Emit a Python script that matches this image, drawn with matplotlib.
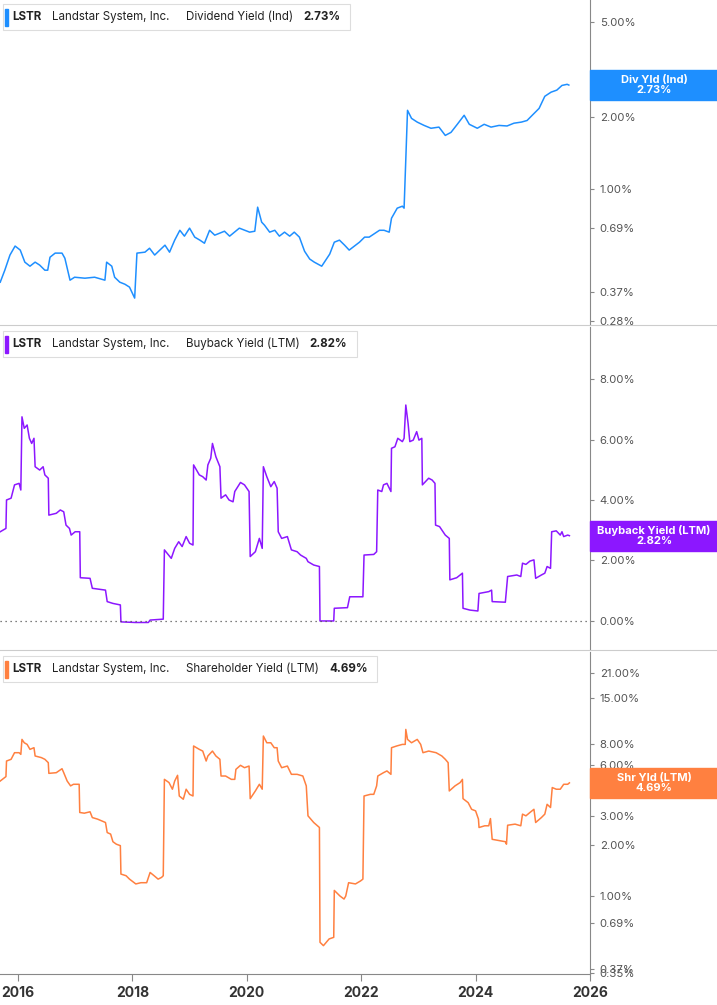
import matplotlib
matplotlib.use("Agg")
import matplotlib.pyplot as plt
from matplotlib.lines import Line2D
from matplotlib.patches import Rectangle

plt.rcParams["font.family"] = "Inter"

# ---------------- data ----------------
div_dates = [2015.69,2015.77,2015.86,2015.95,2016.04,2016.12,2016.21,2016.30,2016.38,2016.47,2016.52,2016.56,2016.65,2016.77,2016.82,
             2016.91,2016.99,2017.17,2017.34,2017.52,2017.55,2017.64,2017.69,2017.78,2017.87,2017.95,2018.04,2018.08,2018.22,2018.30,
             2018.39,2018.48,2018.57,2018.65,2018.74,2018.83,2018.91,2019.00,2019.09,2019.18,2019.26,2019.35,2019.44,2019.53,2019.61,
             2019.70,2019.87,2020.05,2020.14,2020.19,2020.26,2020.31,2020.40,2020.49,2020.57,2020.66,2020.75,2020.83,2020.92,2021.01,
             2021.10,2021.18,2021.31,2021.45,2021.53,2021.62,2021.71,2021.79,2021.97,2022.06,2022.14,2022.32,2022.40,2022.49,2022.53,
             2022.63,2022.72,2022.75,2022.81,2022.88,2022.98,2023.10,2023.22,2023.36,2023.47,2023.57,2023.68,2023.80,2023.89,2024.03,
             2024.15,2024.27,2024.41,2024.55,2024.67,2024.80,2024.90,2024.99,2025.11,2025.21,2025.32,2025.42,2025.51,2025.60,2025.63]
div_vals = [0.408,0.458,0.530,0.578,0.556,0.495,0.476,0.495,0.481,0.458,0.458,0.519,0.540,0.540,0.514,
            0.416,0.428,0.424,0.428,0.416,0.495,0.476,0.428,0.408,0.400,0.389,0.350,0.540,0.545,0.566,
            0.530,0.556,0.583,0.545,0.612,0.673,0.636,0.687,0.630,0.612,0.594,0.673,0.642,0.655,0.667,
            0.636,0.687,0.661,0.667,0.841,0.728,0.707,0.661,0.673,0.636,0.661,0.636,0.661,0.630,0.550,
            0.510,0.495,0.476,0.535,0.600,0.612,0.583,0.556,0.600,0.630,0.630,0.673,0.673,0.661,0.756,
            0.833,0.849,0.833,2.14,1.98,1.91,1.85,1.80,1.82,1.68,1.73,1.87,2.04,1.87,1.80,
            1.87,1.82,1.85,1.84,1.89,1.91,1.94,2.04,2.18,2.45,2.55,2.60,2.72,2.75,2.73]

bb_dates = [2015.69,2015.79,2015.80,2015.88,2015.94,2016.02,2016.05,2016.07,2016.11,2016.16,2016.20,2016.24,2016.28,2016.30,2016.38,
            2016.44,2016.47,2016.53,2016.54,2016.67,2016.74,2016.80,2016.84,2016.90,2016.93,2017.00,2017.08,2017.09,2017.26,2017.30,
            2017.53,2017.56,2017.66,2017.79,2017.80,2018.05,2018.28,2018.31,2018.54,2018.56,2018.68,2018.74,2018.81,2018.87,2018.94,
            2019.00,2019.06,2019.07,2019.17,2019.23,2019.29,2019.32,2019.37,2019.40,2019.46,2019.53,2019.55,2019.63,2019.69,2019.76,
            2019.79,2019.89,2019.96,2020.04,2020.06,2020.15,2020.22,2020.27,2020.29,2020.35,2020.42,2020.48,2020.53,2020.55,2020.61,
            2020.71,2020.78,2020.88,2020.94,2021.04,2021.07,2021.17,2021.27,2021.28,2021.52,2021.53,2021.76,2021.80,2022.03,2022.05,
            2022.22,2022.27,2022.29,2022.36,2022.39,2022.45,2022.52,2022.53,2022.59,2022.64,2022.72,2022.75,2022.78,2022.82,2022.85,
            2022.91,2022.97,2023.01,2023.06,2023.07,2023.18,2023.24,2023.29,2023.30,2023.37,2023.47,2023.54,2023.55,2023.67,2023.77,
            2023.78,2023.90,2024.04,2024.06,2024.23,2024.28,2024.29,2024.52,2024.56,2024.72,2024.79,2024.82,2024.88,2024.95,2025.02,
            2025.05,2025.15,2025.21,2025.25,2025.31,2025.33,2025.41,2025.48,2025.51,2025.54,2025.61,2025.64]
bb_vals = [2.95,3.06,4.00,4.06,4.50,4.55,4.33,6.75,6.37,6.48,6.04,5.87,6.04,5.10,4.99,
           5.10,4.83,4.72,3.50,3.56,3.67,3.61,3.17,3.06,2.84,2.95,2.95,1.43,1.41,1.08,
           1.02,0.64,0.58,0.53,-0.03,-0.05,-0.05,0.03,0.06,2.35,2.07,2.40,2.62,2.46,2.79,
           2.57,2.51,5.16,4.83,4.77,4.66,5.16,5.38,5.87,5.43,5.10,4.06,4.17,4.00,3.94,
           4.28,4.58,4.50,4.28,2.13,2.29,2.73,2.40,5.10,4.77,4.44,4.61,4.39,2.95,2.73,
           2.79,2.35,2.29,2.18,2.07,1.96,1.85,1.80,0.00,0.00,0.42,0.44,0.80,0.80,2.18,
           2.20,2.29,4.33,4.28,4.50,4.55,4.28,5.71,5.76,6.04,5.93,6.04,7.14,6.53,5.93,
           5.98,6.26,5.98,6.04,4.50,4.72,4.66,4.55,3.17,3.12,2.84,2.73,1.36,1.43,1.58,
           0.42,0.36,0.33,0.91,0.97,1.02,0.64,0.62,1.47,1.52,1.47,1.91,1.87,1.98,2.02,
           1.41,1.52,1.58,1.80,1.74,2.95,2.98,2.84,2.95,2.79,2.84,2.82]

shr_dates = [2015.69,2015.79,2015.80,2015.88,2015.94,2016.02,2016.05,2016.07,2016.11,2016.16,2016.21,2016.28,2016.30,2016.41,2016.47,
             2016.53,2016.54,2016.67,2016.77,2016.80,2016.86,2016.92,2016.97,2017.07,2017.08,2017.16,2017.26,2017.30,2017.39,2017.53,
             2017.56,2017.62,2017.66,2017.72,2017.79,2017.80,2017.89,2017.95,2018.06,2018.15,2018.25,2018.31,2018.38,2018.45,2018.51,
             2018.54,2018.56,2018.64,2018.70,2018.74,2018.79,2018.82,2018.89,2018.94,2019.00,2019.06,2019.07,2019.17,2019.23,2019.29,
             2019.32,2019.40,2019.46,2019.53,2019.55,2019.63,2019.73,2019.79,2019.81,2019.89,2019.96,2020.04,2020.06,2020.15,2020.22,
             2020.27,2020.29,2020.35,2020.42,2020.48,2020.53,2020.55,2020.61,2020.71,2020.78,2020.88,2020.98,2021.04,2021.07,2021.17,
             2021.27,2021.28,2021.34,2021.44,2021.52,2021.53,2021.63,2021.70,2021.73,2021.78,2021.90,2021.99,2022.03,2022.05,2022.16,
             2022.22,2022.27,2022.29,2022.39,2022.45,2022.52,2022.53,2022.62,2022.72,2022.77,2022.78,2022.81,2022.88,2022.98,2023.04,
             2023.08,2023.18,2023.31,2023.41,2023.47,2023.52,2023.54,2023.64,2023.73,2023.77,2023.78,2023.87,2023.93,2024.00,2024.05,
             2024.06,2024.16,2024.23,2024.26,2024.29,2024.42,2024.52,2024.54,2024.56,2024.69,2024.79,2024.82,2024.88,2024.95,2025.02,
             2025.05,2025.15,2025.21,2025.25,2025.31,2025.34,2025.41,2025.48,2025.54,2025.61,2025.64]
shr_vals = [4.81,5.11,6.32,6.47,7.08,7.08,6.92,8.49,8.11,7.93,7.41,7.58,6.77,6.62,6.47,
            6.18,5.34,5.39,5.69,5.39,4.81,4.50,4.60,4.60,3.13,3.10,3.16,2.92,2.86,2.73,
            2.38,2.33,2.10,2.03,1.99,1.35,1.32,1.26,1.18,1.20,1.20,1.38,1.32,1.26,1.29,
            1.32,4.92,4.71,4.30,4.81,5.20,3.92,3.75,4.30,4.01,3.92,7.76,7.41,7.24,6.32,
            6.77,7.24,6.77,6.47,5.15,5.15,4.92,4.92,5.64,5.96,5.77,5.90,3.78,4.20,4.60,
            4.30,8.89,8.11,8.11,7.58,7.58,6.32,5.77,5.90,5.27,5.27,5.15,4.50,2.99,2.73,
            2.55,0.532,0.508,0.557,0.569,1.08,1.00,0.96,1.00,1.20,1.18,1.23,1.26,3.92,4.01,
            4.01,4.50,5.15,5.39,5.52,5.27,7.58,7.76,7.93,7.93,9.73,8.49,8.11,8.49,7.93,
            7.08,7.24,7.08,6.77,6.47,6.18,4.20,4.50,4.71,4.92,3.78,3.58,3.27,3.20,2.86,
            2.55,2.61,2.61,2.88,2.17,2.13,2.10,2.03,2.63,2.67,2.61,3.06,2.99,3.13,3.27,
            2.73,2.92,3.06,3.50,3.35,4.40,4.30,4.30,4.60,4.60,4.69]

div_ticks = [5.0, 3.0, 2.0, 1.0, 0.69, 0.37, 0.28]
bb_ticks = [0.0, 2.0, 4.0, 6.0, 8.0]
shr_ticks = [21.0, 15.0, 8.0, 6.0, 3.0, 2.0, 1.0, 0.69, 0.37, 0.35]
year_ticks = [2016, 2018, 2020, 2022, 2024, 2026]

panels = [
    dict(dates=div_dates, vals=div_vals, color="#1E8FFF", log=True, ylim=(0.27, 6.2), ticks=div_ticks,
         legend="Dividend Yield (Ind)", last="2.73%", tag="Div Yld (Ind)", top=0, bottom=325),
    dict(dates=bb_dates, vals=bb_vals, color="#8C17FF", log=False, ylim=(-0.96, 9.72), ticks=bb_ticks,
         legend="Buyback Yield (LTM)", last="2.82%", tag="Buyback Yield (LTM)", top=327, bottom=650),
    dict(dates=shr_dates, vals=shr_vals, color="#FF8040", log=True, ylim=(0.345, 28.0), ticks=shr_ticks,
         legend="Shareholder Yield (LTM)", last="4.69%", tag="Shr Yld (LTM)", top=652, bottom=974),
]

W, H = 717, 1005
fig = plt.figure(figsize=(W / 100, H / 100), dpi=100)
right_px = 590

def fx(px):
    return px / W

def fy(py):
    return 1 - py / H

for i, p in enumerate(panels):
    ax = fig.add_axes([0, 1 - p["bottom"] / H, right_px / W, (p["bottom"] - p["top"]) / H])
    ax.plot(p["dates"], p["vals"], color=p["color"], lw=1.1)
    if p["log"]:
        ax.set_yscale("log")
    ax.set_ylim(*p["ylim"])
    ax.set_xlim(2015.686, 2026.0)
    ax.yaxis.tick_right()
    ax.minorticks_off()
    ax.set_yticks(p["ticks"])
    ax.set_yticklabels([f"{t:.2f}%" for t in p["ticks"]], fontsize=8.2, color="#555555")
    ax.tick_params(axis="y", length=3, color="#888888", pad=4)
    for s in ["top", "left", "bottom"]:
        ax.spines[s].set_visible(False)
    ax.spines["right"].set_color("#888888")
    if i == 1:
        ax.axhline(0, color="#555555", lw=0.9, ls=(0, (1, 3)))
    if i == 2:
        ax.set_xticks(year_ticks)
        ax.set_xticklabels([str(y) for y in year_ticks], fontsize=10, fontweight="bold", color="#333333")
        ax.spines["bottom"].set_visible(True)
        ax.spines["bottom"].set_color("#888888")
        ax.tick_params(axis="x", length=5, color="#888888")
    else:
        ax.set_xticks([])
    p["ax"] = ax

    ty = p["top"] + 17
    p["t1"] = fig.text(fx(12), fy(ty), "LSTR", fontsize=8.3, fontweight="bold", color="#222222", va="center", zorder=10)
    p["t2"] = fig.text(fx(52), fy(ty), "Landstar System, Inc.", fontsize=8.3, color="#222222", va="center", zorder=10)
    p["t3"] = fig.text(fx(186), fy(ty), p["legend"], fontsize=8.3, color="#222222", va="center", zorder=10)
    fig.patches.append(Rectangle((fx(5), fy(p["top"] + 26)), 3 / W, 17 / H,
                                 transform=fig.transFigure, color=p["color"], zorder=11))
    # right tag
    last_v = p["vals"][-1]
    ytag = ax.transData.transform((2026, last_v))[1] / fig.dpi
    yf = ytag / (H / 100)
    fig.patches.append(Rectangle((fx(right_px), yf - 15 / H), (W - right_px) / W, 30 / H,
                                 transform=fig.transFigure, color=p["color"], zorder=5))
    fig.text(fx(right_px + 64), yf, p["tag"] + "\n" + p["last"], ha="center", va="center",
             fontsize=8, color="white", fontweight="bold", zorder=6, linespacing=1.0)

fig.canvas.draw()
r = fig.canvas.get_renderer()
inv = fig.transFigure.inverted()
for p in panels:
    bb = p["t3"].get_window_extent(r)
    x_end_px = bb.x1
    xv = inv.transform((x_end_px + 10, 0))[0]
    tv = fig.text(xv, fy(p["top"] + 17), p["last"], fontsize=8.3, fontweight="bold",
                  color="#222222", va="center", zorder=10)
    bv = tv.get_window_extent(r)
    x1 = inv.transform((bv.x1 + 10, 0))[0]
    fig.patches.append(Rectangle((fx(3), fy(p["top"] + 30)), x1 - fx(3), 26 / H,
                                 transform=fig.transFigure, fc="white", ec="#dddddd", lw=0.8, zorder=9))

for yb in [325, 650]:
    fig.add_artist(Line2D([0, 1], [1 - yb / H, 1 - yb / H], color="#cccccc", lw=0.8))

fig.savefig("out.png", dpi=100)
